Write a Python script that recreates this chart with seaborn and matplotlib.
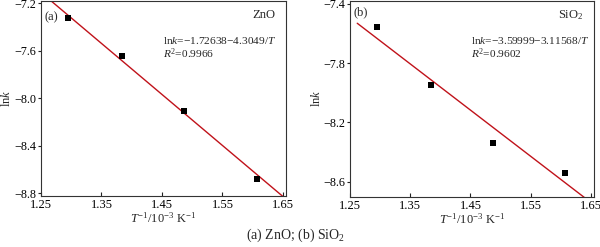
import numpy as np
import pandas as pd
import matplotlib
matplotlib.use("Agg")
import matplotlib.pyplot as plt
import seaborn as sns

# data
inv_T = [1.294, 1.384, 1.487, 1.607]
lnk_zno = [-7.32, -7.645, -8.11, -8.685]
lnk_sio2 = [-7.557, -7.948, -8.337, -8.54]
fit_zno = (-1.72638, -4.3049)
fit_sio2 = (-3.59999, -3.11568)
r2_zno = "0.9966"
r2_sio2 = "0.9602"
fit_x = [1.262, 1.66]
xticks = [1.25, 1.35, 1.45, 1.55, 1.65]
yticks_zno = [-8.8, -8.4, -8.0, -7.6, -7.2]
yticks_sio2 = [-8.6, -8.2, -7.8, -7.4]

sns.set_theme(style="ticks")
plt.rcParams['font.family'] = ['Liberation Serif', 'DejaVu Serif']
plt.rcParams['mathtext.fontset'] = 'custom'
plt.rcParams['mathtext.rm'] = 'Liberation Serif'
plt.rcParams['mathtext.it'] = 'Liberation Serif:italic'
plt.rcParams['font.size'] = 9
plt.rcParams['axes.linewidth'] = 0.8

fig = plt.figure(figsize=(6.0, 2.47), dpi=100)
ax1 = fig.add_axes([41/600, 1-196/247, 245/600, 195/247])
ax2 = fig.add_axes([350/600, 1-196.5/247, 244/600, 195.5/247])

panels = [
    (ax1, lnk_zno, fit_zno, r2_zno, "(a)", "ZnO", yticks_zno, (-8.825, -7.18), 0.918),
    (ax2, lnk_sio2, fit_sio2, r2_sio2, "(b)", "SiO$_2$", yticks_sio2, (-8.70, -7.382), 0.94),
]
for ax, ys, fit, r2, tag, name, yt, ylim, tagy in panels:
    df = pd.DataFrame({"x": inv_T, "y": ys})
    fx = np.array(fit_x)
    fdf = pd.DataFrame({"x": fx, "y": fit[0] + fit[1] * fx})
    sns.lineplot(data=fdf, x="x", y="y", ax=ax, color="#c0121a", lw=1.0)
    sns.scatterplot(data=df, x="x", y="y", ax=ax, marker="s", s=16, color="black",
                    edgecolor="black", linewidth=0, zorder=3)
    ax.set_xlim(1.25, 1.655)
    ax.set_ylim(*ylim)
    ax.set_xticks(xticks)
    ax.set_xticklabels([f"{v:.2f}" for v in xticks])
    ax.set_yticks(yt)
    ax.set_yticklabels([f"\u2212{abs(v):.1f}" for v in yt])
    ax.tick_params(axis="x", direction="in", length=3, width=0.8, labelsize=9, pad=2.5,
                   colors="#222222", labelcolor="black")
    ax.tick_params(axis="y", direction="out", length=2.5, width=0.8, labelsize=8.7, pad=1,
                   colors="#222222", labelcolor="black")
    for s in ax.spines.values():
        s.set_visible(True)
        s.set_color("#333333")
    ax.set_xlabel("$T^{-1}$/10$^{-3}$ K$^{-1}$", fontsize=9, labelpad=0)
    ax.set_ylabel("ln$k$", fontsize=9, labelpad=0.5)
    ax.text(0.016, tagy, tag, transform=ax.transAxes, fontsize=9, ha="left", va="center")
    ax.text(0.955, 0.928, name, transform=ax.transAxes, fontsize=9, ha="right", va="center")
    ax.text(0.497, 0.797, f"ln$k$=\u2212{abs(fit[0]):g}\u2212{abs(fit[1]):g}/$T$",
            transform=ax.transAxes, fontsize=8.2, ha="left", va="center")
    ax.text(0.497, 0.728, f"$R^2$={r2}", transform=ax.transAxes, fontsize=8.2, ha="left", va="center")

fig.text(0.493, 1-235/247, "(a) ZnO; (b) SiO$_2$", fontsize=10, ha="center", va="center")
fig.savefig("out.png", dpi=100)
